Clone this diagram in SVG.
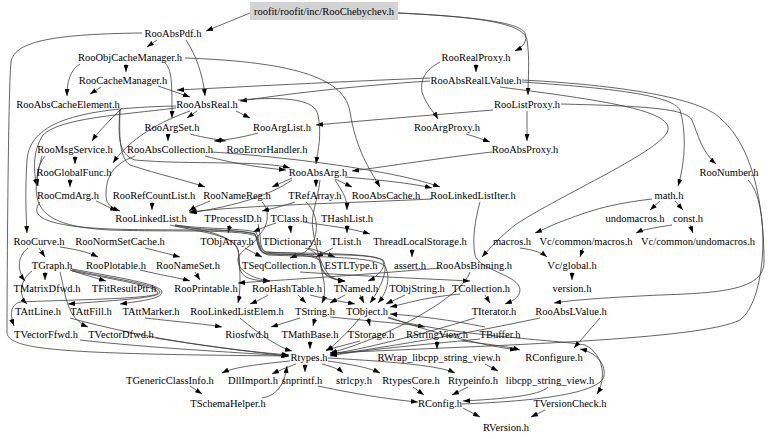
<svg xmlns="http://www.w3.org/2000/svg" width="768" height="439" viewBox="0 0 768 439">
<defs>
<marker id="a" viewBox="0 0 10 10" refX="10" refY="5" markerWidth="7" markerHeight="5" markerUnits="userSpaceOnUse" orient="auto" preserveAspectRatio="none"><path d="M0,0L10,5L0,10z" fill="#000"/></marker>
<style>
.n text{font-family:"Liberation Serif","Times New Roman",serif;font-size:10.5px;text-anchor:middle;fill:#000}
#edges path{fill:none;stroke:#3c3c3c;stroke-width:0.8;marker-end:url(#a)}
</style>
</defs>
<rect width="768" height="439" fill="#fff"/>
<g id="edges">
<path d="M250,13 L206,31"/>
<path d="M398,13 C480,17 520,23 525,33 C528,41 523,47 515,51"/>
<path d="M398,13 C485,17 524,24 527,40 C530,60 528,78 528,95"/>
<path d="M157,40 L147,47"/>
<path d="M186,40 C196,55 203,75 205,96"/>
<path d="M142,33 C60,34 14,40 11,62 C8,90 7,300 7,332 C7,350 60,354 288,356"/>
<path d="M126,64 L126,72"/>
<path d="M80,64 C70,70 67,82 67,96"/>
<path d="M165,63 C172,70 172,82 172,118"/>
<path d="M185,58 C300,62 345,80 350,112 C356,150 370,170 380,187"/>
<path d="M101,87 L90,94"/>
<path d="M158,86 L190,97"/>
<path d="M476,64 L476,72"/>
<path d="M440,62 C425,70 420,80 422,92 C426,105 434,112 438,119"/>
<path d="M430,81 C350,86 280,95 240,101"/>
<path d="M430,78 C330,82 240,87 177,90"/>
<path d="M493,110 C420,116 360,121 316,125"/>
<path d="M527,111 L527,141"/>
<path d="M561,104 C640,106 686,108 692,120 C698,135 702,152 716,164"/>
<path d="M522,82 C610,88 672,95 680,110 C686,130 686,160 678,186"/>
<path d="M522,80 C620,85 700,98 720,118 C758,150 764,220 764,262 C764,290 720,293 660,295 C620,297 580,299 554,303"/>
<path d="M500,87 C600,100 672,110 668,130 C664,150 560,195 515,225 C500,237 490,248 482,257"/>
<path d="M466,134 C476,137 482,139 490,142"/>
<path d="M492,152 C440,158 390,166 352,171"/>
<path d="M122,108 C110,120 98,132 92,141"/>
<path d="M120,110 C118,135 118,155 135,160 C190,165 260,160 290,168"/>
<path d="M120,110 C119,140 120,158 130,165 C160,175 185,180 205,187"/>
<path d="M176,108 C120,115 60,118 43,135 C33,150 33,170 37,186"/>
<path d="M176,106 C70,108 30,125 27,160 C25,190 26,215 27,233"/>
<path d="M190,111 C150,125 125,145 113,163"/>
<path d="M238,100 C290,96 315,100 318,115 C322,135 318,150 316,164"/>
<path d="M236,111 L250,118"/>
<path d="M197,111 L187,118"/>
<path d="M168,134 L168,141"/>
<path d="M190,134 C205,138 215,139 226,141"/>
<path d="M258,133 C240,138 225,140 214,141"/>
<path d="M205,156 C240,165 265,168 286,170"/>
<path d="M135,156 C110,165 106,180 106,195 C106,205 112,208 120,211"/>
<path d="M212,152 C300,158 400,172 440,187"/>
<path d="M75,156 L75,164"/>
<path d="M45,156 C38,165 36,175 38,186"/>
<path d="M70,179 L70,187"/>
<path d="M96,201 C105,205 110,208 117,211"/>
<path d="M152,202 L152,210"/>
<path d="M210,201 C200,205 195,207 189,211"/>
<path d="M262,202 C270,210 269,226 259,235 C255,245 240,250 238,258 C237,270 250,278 270,281"/>
<path d="M316,179 L316,187"/>
<path d="M335,179 L352,187"/>
<path d="M345,177 C380,180 410,183 432,188"/>
<path d="M292,178 L272,187"/>
<path d="M292,180 C270,195 240,205 190,213"/>
<path d="M335,180 C345,195 347,200 347,210"/>
<path d="M320,180 C318,200 310,215 313,230 C316,250 320,262 328,274 C335,280 340,281 345,281"/>
<path d="M295,202 C280,207 270,209 262,211"/>
<path d="M306,202 C320,215 320,240 305,252 C300,255 295,256 290,258"/>
<path d="M230,225 L228,233"/>
<path d="M258,224 C262,238 258,248 266,252 C295,254 318,252 320,262 C322,274 330,279 345,281"/>
<path d="M290,225 L291,233"/>
<path d="M276,223 C266,226 260,229 253,232"/>
<path d="M303,222 C330,226 350,228 370,234"/>
<path d="M347,225 L347,233"/>
<path d="M412,249 L412,257"/>
<path d="M333,248 L316,257"/>
<path d="M245,248 C252,252 256,254 262,257"/>
<path d="M308,248 C322,252 330,255 335,257"/>
<path d="M305,248 C318,252 320,258 321,265 C322,276 332,280 345,281"/>
<path d="M300,272 C360,276 430,279 470,281"/>
<path d="M175,225 C220,232 238,240 239,255 C240,270 241,290 238,303"/>
<path d="M170,225 C200,232 235,235 238,250 C240,262 236,272 248,278 C258,281 265,281 270,281"/>
<path d="M175,225 C200,229 240,228 256,232 C260,240 258,248 265,252 C300,254 370,252 383,260 C390,270 378,292 370,303"/>
<path d="M175,226 C200,230 240,230 255,234 C258,242 257,249 263,253 C290,255 318,254 320,262 C322,275 328,290 322,303"/>
<path d="M145,248 C162,252 172,255 180,257"/>
<path d="M39,248 L45,257"/>
<path d="M60,247 C80,250 90,253 98,257"/>
<path d="M28,248 C17,256 17,271 25,281"/>
<path d="M45,272 L45,280"/>
<path d="M70,270 C85,275 95,278 106,281"/>
<path d="M32,271 C20,280 18,295 27,304"/>
<path d="M72,270 C110,278 160,285 160,292 C160,298 120,300 68,304"/>
<path d="M72,269 C115,277 162,284 162,292 C162,299 140,301 120,304"/>
<path d="M72,271 C110,279 158,286 158,293 C158,299 60,300 20,302 C10,305 10,315 14,326"/>
<path d="M60,272 C66,295 66,318 88,327"/>
<path d="M140,270 C165,276 180,278 190,281"/>
<path d="M195,272 L200,280"/>
<path d="M145,318 C180,322 205,324 222,327"/>
<path d="M70,318 C150,340 230,350 289,355"/>
<path d="M80,340 C150,348 230,352 289,356"/>
<path d="M155,338 C200,345 250,352 289,356"/>
<path d="M268,295 C260,300 255,302 250,304"/>
<path d="M310,295 C330,300 345,302 355,304"/>
<path d="M298,295 L306,303"/>
<path d="M360,295 L364,303"/>
<path d="M345,295 L330,303"/>
<path d="M405,295 C395,300 390,302 386,304"/>
<path d="M460,294 C420,298 405,304 390,307"/>
<path d="M485,295 L490,303"/>
<path d="M240,318 C260,335 280,348 292,351"/>
<path d="M300,318 L271,327"/>
<path d="M315,318 L313,326"/>
<path d="M330,317 C380,322 410,324 425,327"/>
<path d="M368,318 L370,326"/>
<path d="M485,327 C450,320 420,316 390,314"/>
<path d="M388,317 C430,332 480,345 517,350"/>
<path d="M388,318 C450,336 560,340 585,345 C605,355 606,380 597,394"/>
<path d="M360,318 C345,335 335,345 326,351"/>
<path d="M475,318 C420,335 360,350 330,354"/>
<path d="M540,318 C460,335 380,348 330,355"/>
<path d="M600,318 L574,348"/>
<path d="M748,180 C770,200 768,300 740,320 C700,340 500,345 330,353"/>
<path d="M440,268 C350,276 280,280 238,283"/>
<path d="M470,272 C460,300 380,340 330,353"/>
<path d="M480,339 C420,345 360,350 330,356"/>
<path d="M310,341 L310,349"/>
<path d="M360,341 L326,350"/>
<path d="M462,341 C495,345 510,347 520,350"/>
<path d="M437,341 L437,349"/>
<path d="M485,364 L498,371"/>
<path d="M548,387 C540,396 500,399 463,401"/>
<path d="M462,404 C540,401 600,393 604,376 C606,362 594,352 580,349"/>
<path d="M290,361 C250,365 232,368 222,373"/>
<path d="M296,364 C285,368 278,371 272,374"/>
<path d="M305,364 L305,372"/>
<path d="M322,364 C334,367 340,370 343,373"/>
<path d="M328,361 C355,365 370,368 380,373"/>
<path d="M328,358 C400,362 440,366 455,373"/>
<path d="M318,386 C360,395 395,400 418,402"/>
<path d="M413,387 L424,395"/>
<path d="M468,387 L452,395"/>
<path d="M190,386 L202,394"/>
<path d="M262,398 C280,395 285,380 287,366"/>
<path d="M463,408 L480,417"/>
<path d="M545,410 L531,417"/>
<path d="M660,201 L650,210"/>
<path d="M675,201 L683,210"/>
<path d="M652,199 C600,205 580,215 560,222 C550,226 542,230 535,233"/>
<path d="M672,225 C652,228 642,230 636,233"/>
<path d="M690,225 L693,233"/>
<path d="M583,248 L580,257"/>
<path d="M520,248 C535,250 542,253 547,257"/>
<path d="M572,272 L572,280"/>
<path d="M480,202 C475,220 472,240 475,255 C478,270 520,275 520,290 C520,298 510,302 505,304"/>
<path d="M432,199 C350,203 250,205 189,212"/>
<path d="M40,202 C30,215 40,226 110,229 C170,231 240,228 255,234 C259,242 257,250 266,254 C300,256 370,252 382,260 C388,268 375,278 368,281"/>
<path d="M42,156 C30,200 30,226 110,230 C170,232 240,229 256,236 C260,244 258,251 268,255 C310,257 375,256 385,266 C392,280 385,295 378,303"/>
</g>
<g id="n_cheb" class="n"><rect x="250" y="2" width="148" height="18" fill="#d3d3d3"/><text x="324" y="14.5">roofit/roofit/inc/RooChebychev.h</text></g>
<g id="n_RooAbsPdf" class="n"><text x="173" y="37">RooAbsPdf.h</text></g>
<g id="n_RooObjCacheManager" class="n"><text x="130" y="60.5">RooObjCacheManager.h</text></g>
<g id="n_RooCacheManager" class="n"><text x="123" y="83.5">RooCacheManager.h</text></g>
<g id="n_RooAbsCacheElement" class="n"><text x="68" y="107.5">RooAbsCacheElement.h</text></g>
<g id="n_RooAbsReal" class="n"><text x="207" y="107.5">RooAbsReal.h</text></g>
<g id="n_RooArgSet" class="n"><text x="172" y="130.5">RooArgSet.h</text></g>
<g id="n_RooArgList" class="n"><text x="282" y="130.5">RooArgList.h</text></g>
<g id="n_RooMsgService" class="n"><text x="75" y="152.5">RooMsgService.h</text></g>
<g id="n_RooAbsCollection" class="n"><text x="170" y="152.5">RooAbsCollection.h</text></g>
<g id="n_RooErrorHandler" class="n"><text x="267" y="152.5">RooErrorHandler.h</text></g>
<g id="n_RooRealProxy" class="n"><text x="476" y="60.5">RooRealProxy.h</text></g>
<g id="n_RooAbsRealLValue" class="n"><text x="476" y="83.5">RooAbsRealLValue.h</text></g>
<g id="n_RooListProxy" class="n"><text x="527" y="107.5">RooListProxy.h</text></g>
<g id="n_RooArgProxy" class="n"><text x="447" y="130.5">RooArgProxy.h</text></g>
<g id="n_RooAbsProxy" class="n"><text x="525" y="152.5">RooAbsProxy.h</text></g>
<g id="n_RooNumber" class="n"><text x="729" y="175.5">RooNumber.h</text></g>
<g id="n_RooGlobalFunc" class="n"><text x="74" y="175.5">RooGlobalFunc.h</text></g>
<g id="n_RooAbsArg" class="n"><text x="318" y="175.5">RooAbsArg.h</text></g>
<g id="n_RooCmdArg" class="n"><text x="68" y="198.5">RooCmdArg.h</text></g>
<g id="n_RooRefCountList" class="n"><text x="154" y="198.5">RooRefCountList.h</text></g>
<g id="n_RooNameReg" class="n"><text x="237" y="198.5">RooNameReg.h</text></g>
<g id="n_TRefArray" class="n"><text x="315" y="198.5">TRefArray.h</text></g>
<g id="n_RooAbsCache" class="n"><text x="386" y="198.5">RooAbsCache.h</text></g>
<g id="n_RooLinkedListIter" class="n"><text x="473" y="198.5">RooLinkedListIter.h</text></g>
<g id="n_math" class="n"><text x="669" y="198.5">math.h</text></g>
<g id="n_RooLinkedList" class="n"><text x="151" y="221.5">RooLinkedList.h</text></g>
<g id="n_TProcessID" class="n"><text x="233" y="221.5">TProcessID.h</text></g>
<g id="n_TClass" class="n"><text x="289" y="221.5">TClass.h</text></g>
<g id="n_THashList" class="n"><text x="347" y="221.5">THashList.h</text></g>
<g id="n_undomacros" class="n"><text x="635" y="221.5">undomacros.h</text></g>
<g id="n_const" class="n"><text x="688" y="221.5">const.h</text></g>
<g id="n_RooCurve" class="n"><text x="39" y="244.5">RooCurve.h</text></g>
<g id="n_RooNormSetCache" class="n"><text x="120" y="244.5">RooNormSetCache.h</text></g>
<g id="n_TObjArray" class="n"><text x="227" y="244.5">TObjArray.h</text></g>
<g id="n_TDictionary" class="n"><text x="292" y="244.5">TDictionary.h</text></g>
<g id="n_TList" class="n"><text x="346" y="244.5">TList.h</text></g>
<g id="n_ThreadLocalStorage" class="n"><text x="420" y="244.5">ThreadLocalStorage.h</text></g>
<g id="n_macros" class="n"><text x="512" y="244.5">macros.h</text></g>
<g id="n_VcCommonMacros" class="n"><text x="586" y="244.5">Vc/common/macros.h</text></g>
<g id="n_VcCommonUndomacros" class="n"><text x="698" y="244.5">Vc/common/undomacros.h</text></g>
<g id="n_TGraph" class="n"><text x="52" y="268.5">TGraph.h</text></g>
<g id="n_RooPlotable" class="n"><text x="116" y="268.5">RooPlotable.h</text></g>
<g id="n_RooNameSet" class="n"><text x="188" y="268.5">RooNameSet.h</text></g>
<g id="n_TSeqCollection" class="n"><text x="279" y="268.5">TSeqCollection.h</text></g>
<g id="n_ESTLType" class="n"><text x="351" y="268.5">ESTLType.h</text></g>
<g id="n_assert" class="n"><text x="410" y="268.5">assert.h</text></g>
<g id="n_RooAbsBinning" class="n"><text x="474" y="268.5">RooAbsBinning.h</text></g>
<g id="n_VcGlobal" class="n"><text x="572" y="268.5">Vc/global.h</text></g>
<g id="n_TMatrixDfwd" class="n"><text x="47" y="291.5">TMatrixDfwd.h</text></g>
<g id="n_TFitResultPtr" class="n"><text x="124" y="291.5">TFitResultPtr.h</text></g>
<g id="n_RooPrintable" class="n"><text x="206" y="291.5">RooPrintable.h</text></g>
<g id="n_RooHashTable" class="n"><text x="287" y="291.5">RooHashTable.h</text></g>
<g id="n_TNamed" class="n"><text x="356" y="291.5">TNamed.h</text></g>
<g id="n_TObjString" class="n"><text x="417" y="291.5">TObjString.h</text></g>
<g id="n_TCollection" class="n"><text x="481" y="291.5">TCollection.h</text></g>
<g id="n_version" class="n"><text x="572" y="291.5">version.h</text></g>
<g id="n_TAttLine" class="n"><text x="38" y="314.5">TAttLine.h</text></g>
<g id="n_TAttFill" class="n"><text x="91" y="314.5">TAttFill.h</text></g>
<g id="n_TAttMarker" class="n"><text x="151" y="314.5">TAttMarker.h</text></g>
<g id="n_RooLinkedListElem" class="n"><text x="237" y="314.5">RooLinkedListElem.h</text></g>
<g id="n_TString" class="n"><text x="315" y="314.5">TString.h</text></g>
<g id="n_TObject" class="n"><text x="367" y="314.5">TObject.h</text></g>
<g id="n_TIterator" class="n"><text x="494" y="314.5">TIterator.h</text></g>
<g id="n_RooAbsLValue" class="n"><text x="571" y="314.5">RooAbsLValue.h</text></g>
<g id="n_TVectorFfwd" class="n"><text x="46" y="337.5">TVectorFfwd.h</text></g>
<g id="n_TVectorDfwd" class="n"><text x="121" y="337.5">TVectorDfwd.h</text></g>
<g id="n_Riosfwd" class="n"><text x="247" y="337.5">Riosfwd.h</text></g>
<g id="n_TMathBase" class="n"><text x="310" y="337.5">TMathBase.h</text></g>
<g id="n_TStorage" class="n"><text x="371" y="337.5">TStorage.h</text></g>
<g id="n_RStringView" class="n"><text x="437" y="337.5">RStringView.h</text></g>
<g id="n_TBuffer" class="n"><text x="500" y="337.5">TBuffer.h</text></g>
<g id="n_Rtypes" class="n"><text x="309" y="360.5">Rtypes.h</text></g>
<g id="n_RWrap" class="n"><text x="439" y="360.5">RWrap_libcpp_string_view.h</text></g>
<g id="n_RConfigure" class="n"><text x="554" y="360.5">RConfigure.h</text></g>
<g id="n_TGenericClassInfo" class="n"><text x="170" y="383.5">TGenericClassInfo.h</text></g>
<g id="n_DllImport" class="n"><text x="253" y="383.5">DllImport.h</text></g>
<g id="n_snprintf" class="n"><text x="302" y="383.5">snprintf.h</text></g>
<g id="n_strlcpy" class="n"><text x="354" y="383.5">strlcpy.h</text></g>
<g id="n_RtypesCore" class="n"><text x="411" y="383.5">RtypesCore.h</text></g>
<g id="n_Rtypeinfo" class="n"><text x="473" y="383.5">Rtypeinfo.h</text></g>
<g id="n_libcpp" class="n"><text x="550" y="383.5">libcpp_string_view.h</text></g>
<g id="n_TSchemaHelper" class="n"><text x="228" y="406.5">TSchemaHelper.h</text></g>
<g id="n_RConfig" class="n"><text x="440" y="406.5">RConfig.h</text></g>
<g id="n_TVersionCheck" class="n"><text x="570" y="406.5">TVersionCheck.h</text></g>
<g id="n_RVersion" class="n"><text x="506" y="430.5">RVersion.h</text></g>
</svg>
